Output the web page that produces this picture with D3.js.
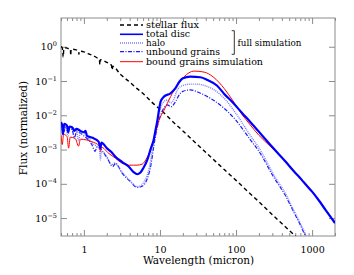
<!DOCTYPE html>
<html><head><meta charset="utf-8">
<script src="https://cdn.jsdelivr.net/npm/d3@7"></script>
<style>body{margin:0;background:#fff}svg{display:block}text{font-family:"DejaVu Serif",serif}</style>
</head><body><svg id="c" width="354" height="275"></svg>
<script>
// ---- data (wavelength in micron, normalized flux) ----
const stellarWl   = [0.50,0.52,0.535,0.545,0.58,0.62,0.665,0.67,0.68,0.75,0.85,0.86,0.87,1.0,1.1,1.2,1.5,1.6,1.62,1.64,2.0,2.3,2.35,2.4,3.0,4.0,5.0,6.0,8.0,10,15,20,30,50,70,100,150,200,300,400,600,1000];
const stellarFlux = [1.00,0.93,0.50,0.91,0.93,0.89,0.87,0.55,0.85,0.83,0.76,0.60,0.74,0.71,0.65,0.60,0.47,0.43,0.30,0.42,0.35,0.29,0.21,0.27,0.158,0.093,0.060,0.043,0.023,0.015,6.3e-3,3.5e-3,1.5e-3,5.2e-4,2.6e-4,1.26e-4,5.4e-5,3.0e-5,1.26e-5,6.9e-6,3.0e-6,1.0e-6];

const discWl   = [0.50,0.52,0.53,0.55,0.60,0.62,0.65,0.70,0.75,0.80,0.90,1.0,1.05,1.1,1.3,1.56,1.65,1.7,2.0,2.3,2.59,3.2,3.87,4.5,5.04,5.5,6.0,6.8,7.5,8.3,8.8,9.25,9.7,10.2,11.3,13.8,16,18,20,25,34,42,56,70,90,120,150,200,280,370,450,550,650,740,826,1000,1236,1500,2000];
const discFlux = [6.3e-3,5.0e-3,2.8e-3,5.6e-3,5.0e-3,3.2e-3,4.7e-3,4.5e-3,3.5e-3,4.0e-3,3.5e-3,3.2e-3,3.5e-3,2.5e-3,2.2e-3,1.7e-3,1.1e-3,1.6e-3,1.1e-3,8.5e-4,6.2e-4,4.3e-4,3.2e-4,2.2e-4,1.9e-4,2.1e-4,2.8e-4,4.9e-4,1.0e-3,2.0e-3,4.0e-3,7.1e-3,1.4e-2,2.5e-2,3.5e-2,4.4e-2,6.2e-2,9.5e-2,0.12,0.135,0.129,0.107,0.074,0.042,0.024,1.17e-2,6.8e-3,3.3e-3,1.41e-3,7.1e-4,4.4e-4,2.6e-4,1.74e-4,1.26e-4,9.5e-5,5.9e-5,3.2e-5,1.74e-5,7.1e-6];

const haloWl   = [0.50,0.53,0.56,0.62,0.65,0.80,0.85,0.90,1.05,1.27,1.6,1.65,1.7,2.0,2.3,2.5,3.16,4.0,5.04,5.6,6.47,7.2,7.9,8.6,9.4,10.2,11.3,12.5,14,15,17,20,25,30,40,55,73,100,150,200,316,450,552,700,826,1000];
const haloFlux = [6.0e-3,3.5e-3,5.2e-3,2.5e-3,4.5e-3,3.5e-3,1.8e-3,3.2e-3,2.8e-3,1.6e-3,1.0e-3,5.0e-4,8.9e-4,6.3e-4,3.5e-4,4.0e-4,2.2e-4,1.26e-4,8.3e-5,8.9e-5,1.4e-4,2.8e-4,8.9e-4,2.8e-3,7.9e-3,1.66e-2,2.5e-2,2.8e-2,2.3e-2,2.75e-2,5.6e-2,7.4e-2,8.1e-2,8.1e-2,7.2e-2,5.0e-2,2.8e-2,1.12e-2,2.8e-3,1.12e-3,1.78e-4,5.0e-5,2.0e-5,7.1e-6,3.2e-6,1.26e-6];

const unboundWl   = [0.50,0.54,0.58,0.70,0.75,0.80,1.0,1.27,1.4,1.5,2.0,2.4,2.6,3.16,4.0,5.04,5.8,6.8,7.6,8.3,9.0,10,11.3,12.5,14,16,18,20,25,34,50,70,100,150,200,316,450,552,700,826,1000];
const unboundFlux = [5.6e-3,3.2e-3,4.8e-3,3.8e-3,2.2e-3,3.3e-3,2.5e-3,1.4e-3,8.9e-4,1.2e-3,5.9e-4,3.2e-4,4.0e-4,2.1e-4,1.2e-4,7.9e-5,8.5e-5,1.4e-4,3.5e-4,1.26e-3,3.5e-3,8.9e-3,1.66e-2,2.0e-2,1.78e-2,2.5e-2,4.0e-2,5.0e-2,5.5e-2,4.4e-2,2.8e-2,1.58e-2,7.1e-3,2.1e-3,8.9e-4,1.5e-4,4.4e-5,1.78e-5,6.3e-6,2.8e-6,1.12e-6];

const boundWl   = [0.50,0.52,0.54,0.60,0.63,0.66,0.77,0.85,0.90,1.27,1.6,1.65,1.7,2.11,2.6,3.16,3.87,4.5,5.0,5.9,6.5,7.5,8.5,9.7,11.3,13.8,16.9,20.7,28,38,50,70,90,120,150,200,280,370,450,550,650,740,826,1000,1236,1500,2000];
const boundFlux = [2.6e-3,1.4e-3,2.8e-3,2.4e-3,1.1e-3,2.3e-3,2.1e-3,1.26e-3,2.0e-3,1.7e-3,1.26e-3,8.9e-4,1.17e-3,7.8e-4,5.6e-4,4.0e-4,3.5e-4,3.5e-4,3.5e-4,3.8e-4,5.0e-4,9.5e-4,2.4e-3,7.1e-3,1.4e-2,3.5e-2,7.6e-2,0.132,0.195,0.182,0.132,0.060,0.0275,1.05e-2,5.6e-3,2.6e-3,1.26e-3,6.8e-4,4.5e-4,2.7e-4,1.8e-4,1.3e-4,9.8e-5,6.1e-5,3.3e-5,1.8e-5,7.6e-6];

const xMajorTicks = [1,10,100,1000];
const xTickLabels = ["1","10","100","1000"];
const yMajorTicks = [1e0,1e-1,1e-2,1e-3,1e-4,1e-5];
const yTickExponents = ["0","\u22121","\u22122","\u22123","\u22124","\u22125"];
const legendLabels = ["stellar flux","total disc","halo","unbound grains","bound grains simulation"];

// ---- layout ----
const L=61,R=335,T=18,B=236;
const svg=d3.select("#c");
const x=d3.scaleLog().domain([0.5,2000]).range([L,R]);
const y=d3.scaleLog().domain([3e-6,6.9]).range([B,T]);
const gray="#8c8c8c";

svg.append("clipPath").attr("id","clip").append("rect").attr("x",L).attr("y",T).attr("width",R-L).attr("height",B-T);

const xMinor=[];
for(let d=0.1; d<2000; d*=10){for(let k=2;k<=9;k++){const v=d*k; if(v>=0.5&&v<=2000 && !xMajorTicks.includes(v)) xMinor.push(v);}}

function styleAxis(g){g.select(".domain").remove();g.selectAll("line").attr("stroke",gray);g.selectAll("text").attr("fill","#000").attr("font-size",9.5).attr("font-family","DejaVu Serif");}
svg.append("g").attr("transform",`translate(0,${B})`).call(d3.axisBottom(x).tickValues(xMajorTicks).tickSize(-6).tickPadding(10).tickFormat((d,i)=>xTickLabels[i])).call(styleAxis);
svg.append("g").attr("transform",`translate(0,${B})`).call(d3.axisBottom(x).tickValues(xMinor).tickSize(-3).tickFormat("")).call(styleAxis);
svg.append("g").attr("transform",`translate(0,${T})`).call(d3.axisTop(x).tickValues(xMajorTicks).tickSize(-6).tickFormat("")).call(styleAxis);
svg.append("g").attr("transform",`translate(0,${T})`).call(d3.axisTop(x).tickValues(xMinor).tickSize(-3).tickFormat("")).call(styleAxis);
svg.append("g").attr("transform",`translate(${L},0)`).call(d3.axisLeft(y).tickValues(yMajorTicks).tickSize(-6).tickFormat("")).call(styleAxis);
svg.append("g").attr("transform",`translate(${R},0)`).call(d3.axisRight(y).tickValues(yMajorTicks).tickSize(-6).tickFormat("")).call(styleAxis);
svg.append("rect").attr("x",L).attr("y",T).attr("width",R-L).attr("height",B-T).attr("fill","none").attr("stroke",gray).attr("stroke-width",1);

// y tick labels with superscripts
yMajorTicks.forEach((v,i)=>{
  const t=svg.append("text").attr("x",57).attr("y",y(v)+3.5).attr("text-anchor","end").attr("font-size",9.5);
  t.append("tspan").text("10");
  t.append("tspan").attr("dy",-4).attr("font-size",6.5).text(yTickExponents[i]);
});

// axis titles
svg.append("text").attr("x",(142+255)/2).attr("y",264).attr("text-anchor","middle").attr("font-size",10.5).text("Wavelength (micron)");
svg.append("text").attr("transform",`translate(27,128) rotate(-90)`).attr("text-anchor","middle").attr("font-size",10.5).text("Flux (normalized)");

// series
const line=d3.line().x(d=>x(d[0])).y(d=>y(d[1])).curve(d3.curveMonotoneX);
const plot=svg.append("g").attr("clip-path","url(#clip)");
const series=[
  {wl:stellarWl,f:stellarFlux,color:"#000",w:1.4,dash:"4,3"},
  {wl:unboundWl,f:unboundFlux,color:"#1a1aff",w:1.2,dash:"4,1.5,1,1.5"},
  {wl:haloWl,f:haloFlux,color:"#7a7aff",w:1.4,dash:"1,1"},
  {wl:boundWl,f:boundFlux,color:"#ff0000",w:1,dash:null},
  {wl:discWl,f:discFlux,color:"#0000ff",w:2.2,dash:null},
];
series.forEach(s=>{
  plot.append("path").datum(s.wl.map((w,i)=>[w,s.f[i]])).attr("d",line).attr("fill","none")
    .attr("stroke",s.color).attr("stroke-width",s.w).attr("stroke-dasharray",s.dash);
});

// legend
const legStyles=[
  {color:"#000",w:1.4,dash:"4,3"},
  {color:"#0000ff",w:1.6,dash:null},
  {color:"#7a7aff",w:1.4,dash:"1,1"},
  {color:"#1a1aff",w:1.2,dash:"4,1.5,1,1.5"},
  {color:"#ff0000",w:1,dash:null},
];
const legY=[25,34.3,43,51.7,61.7];
const legW=[53,44,19,74,117];
legendLabels.forEach((lab,i)=>{
  svg.append("line").attr("x1",120).attr("x2",143).attr("y1",legY[i]).attr("y2",legY[i])
    .attr("stroke",legStyles[i].color).attr("stroke-width",legStyles[i].w).attr("stroke-dasharray",legStyles[i].dash);
  svg.append("text").attr("x",146).attr("y",legY[i]+3).attr("font-size",9).attr("textLength",legW[i]).attr("lengthAdjust","spacingAndGlyphs").text(lab);
});
svg.append("path").attr("d","M231.7,30.7H234.3V54.3H231.7").attr("fill","none").attr("stroke","#000").attr("stroke-width",0.8);
svg.append("text").attr("x",237.5).attr("y",45.5).attr("font-size",9).attr("textLength",64).attr("lengthAdjust","spacingAndGlyphs").text("full simulation");
</script></body></html>
